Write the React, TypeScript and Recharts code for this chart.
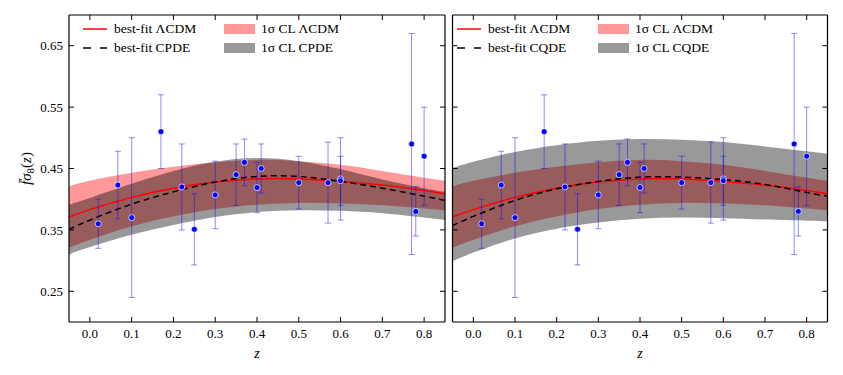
import React from 'react';
import { ComposedChart, Area, Line, Scatter, ErrorBar, XAxis, YAxis, Label } from 'recharts';

const FONT = '"Liberation Serif", "DejaVu Serif", serif';

// growth-rate measurements f*sigma8(z)
const zObs = [0.02, 0.067, 0.1, 0.17, 0.22, 0.25, 0.3, 0.35, 0.37, 0.4, 0.41, 0.5, 0.57, 0.6, 0.6, 0.77, 0.78, 0.8];
const fs8Obs = [0.36, 0.423, 0.37, 0.51, 0.42, 0.351, 0.407, 0.44, 0.46, 0.419, 0.45, 0.427, 0.427, 0.433, 0.43, 0.49, 0.38, 0.47];
const errObs = [0.04, 0.055, 0.13, 0.06, 0.07, 0.058, 0.055, 0.05, 0.038, 0.041, 0.04, 0.043, 0.066, 0.067, 0.04, 0.18, 0.04, 0.08];

// model curves on a coarse z grid
const zGrid = [-0.05, 0, 0.1, 0.2, 0.3, 0.4, 0.5, 0.6, 0.7, 0.8, 0.85];
const lcdmBest = [0.371, 0.383, 0.403, 0.418, 0.428, 0.433, 0.433, 0.429, 0.423, 0.414, 0.409];
const lcdmLo = [0.321, 0.334, 0.356, 0.372, 0.384, 0.391, 0.394, 0.393, 0.39, 0.385, 0.382];
const lcdmHi = [0.421, 0.43, 0.443, 0.453, 0.46, 0.464, 0.462, 0.456, 0.446, 0.435, 0.43];

const cpdeBest = [0.351, 0.366, 0.392, 0.412, 0.428, 0.437, 0.437, 0.429, 0.418, 0.405, 0.398];
const cpdeLo = [0.31, 0.322, 0.342, 0.358, 0.371, 0.379, 0.382, 0.381, 0.377, 0.37, 0.366];
const cpdeHi = [0.391, 0.402, 0.425, 0.446, 0.461, 0.467, 0.462, 0.449, 0.432, 0.418, 0.412];

const cqdeBest = [0.357, 0.372, 0.398, 0.417, 0.429, 0.436, 0.436, 0.432, 0.424, 0.411, 0.405];
const cqdeLo = [0.299, 0.313, 0.336, 0.352, 0.362, 0.368, 0.37, 0.369, 0.367, 0.365, 0.364];
const cqdeHi = [0.451, 0.461, 0.477, 0.488, 0.495, 0.498, 0.497, 0.493, 0.486, 0.478, 0.474];

const xTicks = [0, 0.1, 0.2, 0.3, 0.4, 0.5, 0.6, 0.7, 0.8];
const yTicks = [0.25, 0.35, 0.45, 0.55, 0.65];

const obs = zObs.map((z, i) => ({ z, fs8: fs8Obs[i], err: errObs[i] }));

const tickStyle = { fontFamily: FONT, fontSize: 13, fill: '#000' };
const noLabel = () => <g />;
const frame = { stroke: '#000', strokeWidth: 1.2 };

const Dot = (p: any) => (
  <circle cx={p.cx} cy={p.cy} r={3} fill="#0000ff" stroke="#ffffff" strokeWidth={0.7} />
);

const YLabel = ({ viewBox }: any) => {
  const x = viewBox.x + 7;
  const y = viewBox.y + viewBox.height / 2;
  return (
    <text x={x} y={y} transform={`rotate(-90 ${x} ${y})`} textAnchor="middle" fontFamily={FONT} fontSize={15} fill="#000">
      <tspan fontStyle="italic">{'f\u0304'}</tspan>
      <tspan fontStyle="italic">σ</tspan>
      <tspan fontSize={11} dy={3}>8</tspan>
      <tspan dy={-3}>(</tspan>
      <tspan fontStyle="italic">z</tspan>
      <tspan>)</tspan>
    </text>
  );
};

const XLabel = ({ viewBox }: any) => (
  <text x={viewBox.x + viewBox.width / 2} y={viewBox.y + 36} textAnchor="middle" fontFamily={FONT} fontStyle="italic" fontSize={14} fill="#000">
    z
  </text>
);

function Legend({ name, left }: { name: string; left: number }) {
  const row = (y: number, sample: React.ReactNode, text: string, x: number) => (
    <div style={{ position: 'absolute', top: y, left: x, display: 'flex', alignItems: 'center', whiteSpace: 'nowrap' }}>
      {sample}
      <span style={{ marginLeft: 6 }}>{text}</span>
    </div>
  );
  const line = (dash?: string, color = '#000') => (
    <svg width={26} height={10}>
      <line x1={1} y1={5} x2={25} y2={5} stroke={color} strokeWidth={1.5} strokeDasharray={dash} />
    </svg>
  );
  const patch = (color: string) => <div style={{ width: 31, height: 10, background: color }} />;
  return (
    <div style={{ position: 'absolute', top: 0, left, fontFamily: FONT, fontSize: 13.5, color: '#000' }}>
      {row(13, line(undefined, '#ff0000'), 'best-fit ΛCDM', 0)}
      {row(32, line('8 9'), `best-fit ${name}`, 0)}
      {row(13, patch('#ff9999'), '1σ CL ΛCDM', 142)}
      {row(32, patch('#999999'), `1σ CL ${name}`, 142)}
    </div>
  );
}

function Panel({ name, best, lo, hi, first }: { name: string; best: number[]; lo: number[]; hi: number[]; first: boolean }) {
  const rows = zGrid.map((z, i) => ({
    z,
    lcdm: lcdmBest[i],
    lcdmBand: [lcdmLo[i], lcdmHi[i]],
    model: best[i],
    modelBand: [lo[i], hi[i]],
  }));
  const width = first ? 441 : 386;
  const margin = first ? { top: 6, right: 3, bottom: 0, left: 16 } : { top: 6, right: 6.5, bottom: 0, left: 2.5 };
  return (
    <div style={{ position: 'relative', width, height: 359 }}>
      <ComposedChart width={width} height={359} data={rows} margin={margin}>
        <XAxis
          dataKey="z"
          type="number"
          domain={[-0.05, 0.85]}
          ticks={xTicks}
          allowDataOverflow
          tickFormatter={(v: number) => v.toFixed(1)}
          tick={tickStyle}
          tickSize={-5}
          tickMargin={12}
          height={45}
          axisLine={frame}
          tickLine={{ stroke: '#000' }}
        >
          <Label content={XLabel} />
        </XAxis>
        <XAxis
          xAxisId="top"
          dataKey="z"
          orientation="top"
          type="number"
          domain={[-0.05, 0.85]}
          ticks={xTicks}
          allowDataOverflow
          tick={noLabel}
          tickSize={-5}
          height={1}
          axisLine={frame}
          tickLine={{ stroke: '#000' }}
        />
        <YAxis
          type="number"
          domain={[0.2, 0.7]}
          ticks={yTicks}
          allowDataOverflow
          tickFormatter={(v: number) => v.toFixed(2)}
          tick={first ? tickStyle : noLabel}
          tickSize={-5}
          tickMargin={11}
          width={first ? 45 : 1}
          axisLine={frame}
          tickLine={{ stroke: '#000' }}
        >
          {first && <Label content={YLabel} />}
        </YAxis>
        <YAxis
          yAxisId="right"
          orientation="right"
          type="number"
          domain={[0.2, 0.7]}
          ticks={yTicks}
          allowDataOverflow
          tick={noLabel}
          tickSize={-5}
          width={1}
          axisLine={frame}
          tickLine={{ stroke: '#000' }}
        />
        <Area dataKey="lcdmBand" type="natural" fill="#ff0000" fillOpacity={0.4} stroke="none" isAnimationActive={false} />
        <Area dataKey="modelBand" type="natural" fill="#000000" fillOpacity={0.4} stroke="none" isAnimationActive={false} />
        <Line dataKey="lcdm" type="natural" stroke="#ff0000" strokeWidth={1.5} dot={false} isAnimationActive={false} />
        <Line dataKey="model" type="natural" stroke="#000000" strokeWidth={1.5} strokeDasharray="6 4" dot={false} isAnimationActive={false} />
        <Scatter data={obs} dataKey="fs8" shape={Dot} isAnimationActive={false}>
          <ErrorBar dataKey="err" direction="y" width={3} stroke="#0000ff" strokeOpacity={0.45} strokeWidth={1} />
        </Scatter>
        {/* invisible series so the mirrored axes are part of the chart */}
        <Line xAxisId="top" yAxisId="right" dataKey="lcdm" stroke="none" dot={false} legendType="none" isAnimationActive={false} />
      </ComposedChart>
      <Legend name={name} left={first ? 74 : 7} />
    </div>
  );
}

export default function App() {
  return (
    <div style={{ display: 'flex', width: 827, height: 359 }}>
      <Panel name="CPDE" best={cpdeBest} lo={cpdeLo} hi={cpdeHi} first />
      <Panel name="CQDE" best={cqdeBest} lo={cqdeLo} hi={cqdeHi} first={false} />
    </div>
  );
}
